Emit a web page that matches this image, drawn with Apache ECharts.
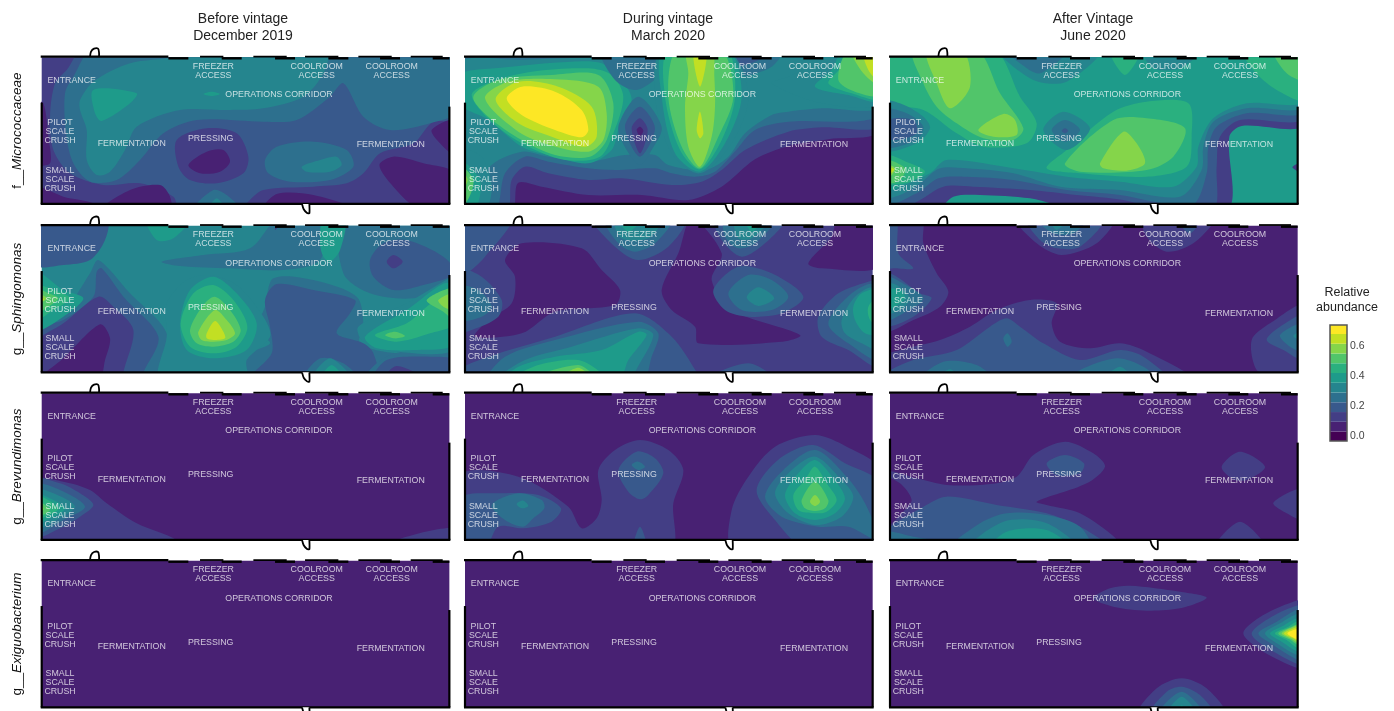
<!DOCTYPE html>
<html><head><meta charset="utf-8">
<style>html,body{margin:0;padding:0;background:#fff}#c{width:1394px;height:711px;filter:blur(0.35px)}</style>
<script src="https://cdn.jsdelivr.net/npm/echarts@6/dist/echarts.min.js"></script>
</head><body><div id="c"></div>
<script>
// Abundance bands (bottom to top of the colour bar)
const bandColors = ['#440154','#482173','#433e85','#38598c','#2d708e','#25858e','#1e9b8a','#2ab07f','#51c56a','#85d54a','#c2df23','#fde725'];
const bandEdges = [-0.033,0.03,0.095,0.16,0.225,0.29,0.355,0.42,0.485,0.55,0.615,0.68,0.74];
const legendTicks = [0,0.2,0.4,0.6];
const taxa = ['Micrococcaceae','Sphingomonas','Brevundimonas','Exiguobacterium'];
const taxaPrefix = ['f__','g__','g__','g__'];
const periods = ['Before vintage\nDecember 2019','During vintage\nMarch 2020','After Vintage\nJune 2020'];

// Contour rings, as [band, x,y, x,y, ...] on a floor-plan grid
const microBefore = [
 [3,160,30,1290,30,1290,240,1210,245,1150,310,1050,340,1000,400,950,430,850,440,700,450,650,490,640,510,450,510,430,470,330,430,220,435,120,400,70,330,60,230,75,130,110,90],
 [2,440,300,530,265,620,280,655,350,640,400,560,430,480,420,445,380],
 [1,475,375,530,335,580,330,600,365,570,395,510,400],
 [1,1048,375,1090,350,1180,370,1275,400,1275,510,1170,510,1090,440],
 [1,1205,270,1275,240,1275,345,1230,310],
 [1,700,510,740,462,850,465,980,510],
 [1,15,185,40,190,55,290,60,370,15,370],
 [1,15,440,100,470,190,490,190,510,15,510],
 [1,215,510,300,450,390,435,420,470,420,510],
 [4,190,30,1290,30,1290,210,1200,250,1080,270,1000,230,940,130,900,170,800,240,700,245,500,240,400,280,330,360,260,420,180,425,130,370,108,280,105,160,130,110],
 [4,705,360,740,320,850,305,950,330,970,380,900,420,780,425,715,400],
 [4,490,510,550,450,590,465,630,510],
 [5,150,180,190,125,300,70,440,50,450,30,890,30,880,100,820,170,700,205,600,210,450,210,320,260,285,330,240,395,200,405,170,360,170,270,150,210],
 [5,815,380,870,360,920,350,935,375,900,395,830,395],
 [5,535,510,560,475,585,510],
 [6,190,150,320,160,300,190,215,243,195,220],
 [6,520,162,545,155,570,162,545,168]
];
const microDuring = [
 [2,10,30,1275,30,1275,272,1120,298,1000,318,900,358,800,440,700,480,560,465,400,465,260,440,190,428,180,490,180,510,10,510],
 [3,10,30,1275,30,1275,255,1100,262,1000,275,870,330,800,390,740,425,650,435,500,415,400,420,280,400,210,380,170,420,155,510,10,510],
 [4,10,30,1275,30,1275,225,1000,245,900,270,835,340,780,395,720,410,650,400,600,385,480,390,400,385,280,365,210,350,150,400,120,510,10,510],
 [5,10,75,200,60,430,50,640,30,1275,30,1275,200,1100,205,1000,215,950,225,870,280,820,350,750,390,640,375,600,345,510,345,400,365,280,350,200,335,100,385,80,510,10,510],
 [6,10,105,120,85,350,65,440,70,500,120,530,180,490,270,470,330,400,370,280,345,200,320,100,240,10,190],
 [7,50,165,110,125,230,95,400,85,470,105,505,170,475,280,435,350,330,360,210,315,110,245],
 [8,55,170,130,120,290,105,430,105,475,190,455,300,405,350,300,345,200,300,100,230],
 [9,90,175,160,125,300,118,430,140,455,220,445,300,400,335,295,318,190,275],
 [10,122,178,190,125,310,140,410,200,425,290,390,320,290,290,190,250],
 [11,155,175,200,140,300,155,380,210,400,270,380,292,300,270,200,225],
 [4,440,30,660,30,620,100,545,150,480,120],
 [4,770,30,980,30,950,80,850,110,790,90],
 [3,800,30,960,30,900,65,840,75],
 [5,620,30,820,30,880,170,830,310,735,400,650,340,600,170],
 [6,625,30,820,30,860,170,810,310,735,395,660,340,620,170],
 [7,640,30,815,30,840,170,800,300,735,388,675,330,630,170],
 [8,665,30,800,30,835,170,790,290,735,385,680,320,640,170],
 [9,695,30,770,30,778,110,780,200,770,290,735,380,700,320,690,200,700,100],
 [10,715,30,755,30,735,140],
 [10,725,270,735,215,745,280,735,295],
 [4,490,260,550,170,620,260,590,330,555,375,515,330],
 [3,510,260,555,200,600,265,555,350],
 [2,530,265,555,235,578,270,555,340],
 [1,545,270,555,260,565,272,555,288],
 [5,950,130,1000,110,1080,70,1100,30,1275,30,1275,190,1100,190],
 [6,1080,140,1130,90,1165,30,1275,30,1275,182,1180,165],
 [7,1120,130,1160,80,1180,30,1275,30,1275,175,1190,160],
 [8,1150,120,1180,30,1275,30,1275,165,1200,155],
 [9,1190,30,1275,30,1275,135,1225,100],
 [10,1225,30,1275,30,1275,125,1240,90],
 [5,10,330,80,350,110,440,90,510,10,510],
 [6,10,360,75,420,60,510,10,510],
 [8,10,375,55,420,35,485,10,490],
 [9,10,385,38,420,10,465]
];
const microAfter = [
 [2,10,30,1275,30,1275,255,1085,258,1048,290,1042,510,750,510,720,492,540,495,450,475,300,465,220,470,170,510,10,510],
 [3,10,30,1275,30,1275,235,1080,240,1020,290,1010,380,1000,510,850,510,730,480,590,465,450,450,280,440,190,440,120,480,60,510,10,510],
 [4,10,30,1275,30,1275,215,1100,220,1010,260,985,320,980,400,940,495,850,490,720,465,560,450,400,420,260,410,175,415,110,460,10,490],
 [5,10,30,1275,30,1275,200,1100,205,1000,245,970,320,965,390,900,470,720,450,540,440,400,400,260,385,180,385,120,430,60,465,10,470],
 [6,10,30,1275,30,1275,185,1100,190,1000,235,955,320,950,380,880,440,720,425,560,410,400,385,200,360,150,400,60,440,10,450],
 [7,10,30,340,30,420,170,470,250,440,310,310,320,230,280,130,210,10,185],
 [8,100,30,290,30,360,160,430,265,400,300,310,295,230,250,170,200,130,130],
 [9,140,30,248,30,270,140,210,205,170,130],
 [9,295,270,370,222,405,240,410,285,340,290],
 [7,500,385,560,330,700,215,800,185,925,190,935,290,920,380,800,410,600,400],
 [8,555,370,700,240,800,235,915,265,880,350,800,390,600,395],
 [9,660,370,730,275,770,310,795,370,740,392,670,385],
 [5,490,270,550,215,630,265,560,330],
 [4,515,270,555,240,600,270,555,305],
 [3,545,272,555,265,565,272,555,280],
 [5,360,30,660,30,560,125,460,120],
 [4,380,30,560,30,480,100,420,70],
 [7,690,30,780,30,735,105],
 [5,790,30,960,30,900,85,820,85],
 [7,1090,30,1275,30,1275,180,1190,150,1120,90],
 [8,1180,30,1275,30,1275,120,1220,100],
 [5,10,185,60,190,130,230,150,265,110,310,10,330],
 [4,10,210,80,220,130,260,110,300,10,320],
 [3,25,240,100,240,110,280,50,300,10,290],
 [7,10,345,90,370,135,395,90,425,30,435,10,440],
 [8,10,360,75,385,60,420,10,430],
 [9,10,370,45,385,30,410,10,415],
 [10,10,375,42,388,30,402,10,405],
 [2,1237,382,1275,365,1275,400]
];
const sphingoBefore = [
 [3,15,30,230,30,225,90,180,150,100,165,15,165],
 [4,395,155,520,135,660,115,745,25,880,25,870,150,760,180,600,175,450,168],
 [4,940,25,1275,25,1275,220,1150,265,1020,250,940,190],
 [3,1020,150,1060,100,1130,90,1240,140,1275,190,1180,225,1090,240,1030,200],
 [2,1070,155,1090,135,1118,155,1090,175],
 [6,870,100,880,25,945,25,930,120,900,155,880,140],
 [6,350,25,480,25,430,85,380,90],
 [2,745,25,760,25,735,60],
 [4,180,190,205,150,300,250,410,370,390,487,395,510,15,510,15,340,90,320],
 [3,200,185,215,175,280,260,385,380,340,487,330,510,15,510,15,360,100,330,190,260],
 [2,205,260,250,290,310,360,280,487,280,510,15,510,15,400,100,340],
 [1,210,343,240,385,225,450,205,510,30,510,100,445],
 [6,15,185,100,240,160,265,100,320,15,360],
 [7,15,225,70,240,120,265,70,300,15,330],
 [8,15,235,55,250,85,265,55,290,15,310],
 [9,15,250,50,265,15,285],
 [10,15,255,42,268,15,280],
 [4,705,290,680,360,720,400,640,440,660,510,1030,510,1270,510,1258,420,1100,430,990,400,1000,340,980,260,850,210,730,205],
 [3,705,270,740,222,850,240,975,270,960,310,920,370,1000,400,1030,430,1040,510,660,510,725,430,720,350],
 [5,410,280,470,210,540,195,620,225,700,320,720,380,650,450,650,510,390,510,410,380],
 [6,450,340,480,240,550,200,620,250,680,340,650,420,550,445,470,420],
 [7,452,340,490,250,550,225,610,270,652,350,620,410,550,430,480,410],
 [8,480,360,520,285,555,260,600,300,632,360,610,395,550,410,500,400],
 [9,505,365,555,300,590,330,615,370,590,390,550,395,515,390],
 [10,530,370,555,333,580,365,585,385,550,390,530,385],
 [4,820,510,870,445,940,460,985,510],
 [5,845,510,900,445,965,510],
 [6,870,510,905,465,940,510],
 [4,1005,510,1060,445,1150,420,1275,430,1275,510],
 [3,1030,510,1070,450,1200,440,1275,450,1275,510],
 [2,1060,510,1100,468,1190,510],
 [5,985,350,1130,280,1258,205,1275,205,1275,415,1100,425,1000,395],
 [6,1005,380,1130,300,1258,220,1275,400,1150,420,1040,415],
 [7,1035,375,1130,340,1190,290,1275,232,1275,340,1200,370,1100,395],
 [8,1065,375,1095,365,1125,378,1095,385],
 [8,1190,270,1275,235,1275,330,1240,305],
 [9,1225,270,1275,250,1275,300,1240,290]
];
const sphingoDuring = [
 [1,150,150,200,100,380,115,440,180,495,240,480,285,300,305,200,370,60,380,100,330,170,280,180,200],
 [1,710,25,800,130,770,210,830,300,1035,375,980,395,730,400,720,350,650,300,620,240,670,130],
 [1,1060,160,1130,80,1150,25,1275,25,1275,170,1100,175],
 [3,15,25,170,25,90,140,35,190,15,190],
 [3,415,25,690,25,640,110,550,150,480,110],
 [4,450,25,650,25,600,100,540,125,490,100],
 [5,480,25,620,25,580,85,500,85],
 [6,490,25,560,25,520,65],
 [3,780,25,990,25,930,100,860,140,800,90],
 [4,810,25,960,25,900,100,850,115,810,80],
 [5,840,25,945,25,890,85,850,85],
 [6,870,25,925,25,890,65],
 [7,880,25,910,25,895,55],
 [3,10,180,80,200,140,270,130,320,50,360,10,365],
 [4,10,230,70,240,110,290,80,320,10,330],
 [3,10,480,100,440,300,380,540,310,650,380,725,487,730,510,10,510],
 [4,150,440,300,390,550,335,610,370,590,440,560,510,100,510],
 [5,210,450,350,410,550,355,595,375,540,487,530,510,130,510],
 [6,190,470,300,440,440,420,550,365,575,375,520,450,490,510,150,510],
 [7,170,510,250,465,370,450,440,490,440,510],
 [8,220,510,370,465,420,510],
 [9,310,510,370,473,410,510],
 [3,1090,320,1150,250,1255,210,1275,210,1275,470,1180,420,1100,380],
 [4,1120,340,1190,250,1255,225,1275,450,1180,400],
 [5,1160,330,1200,260,1255,235,1275,420,1220,400,1170,370],
 [6,1195,290,1220,250,1275,240,1275,370,1230,370,1200,330],
 [7,1240,290,1275,255,1275,350,1245,330],
 [3,775,240,850,170,950,190,1045,260,980,310,880,320,810,300],
 [4,820,250,880,195,950,210,1000,260,950,300,860,300],
 [5,875,262,910,232,958,265,910,288],
 [3,750,510,880,460,960,510]
];
const sphingoAfter = [
 [2,15,25,125,25,130,100,170,190,205,245,180,290,100,330,15,360],
 [2,15,510,15,440,60,420,180,390,270,350,350,300,450,270,530,280,515,340,540,395,630,415,720,400,800,425,935,510],
 [3,15,490,100,450,230,420,330,350,380,325,420,350,490,400,600,450,720,420,790,440,860,510,15,510],
 [4,120,510,190,455,290,465,340,510],
 [4,570,510,600,480,710,445,790,470,830,510],
 [5,670,510,720,470,760,510],
 [5,170,510,210,478,240,510],
 [4,370,385,383,370,395,395,382,410],
 [2,410,25,700,25,650,100,545,135,470,100],
 [3,440,25,670,25,600,110,530,115,480,90],
 [4,470,25,620,25,580,70,520,70],
 [5,510,25,560,25,530,60],
 [2,790,25,1000,25,940,100,860,125,800,80],
 [3,890,25,960,25,930,70],
 [3,15,190,50,200,120,250,155,265,100,320,15,345],
 [4,15,200,60,215,130,265,70,310,15,330],
 [5,15,220,50,225,90,265,60,300,15,310],
 [6,15,240,60,240,75,265,45,290,15,300],
 [3,15,25,50,25,55,130,100,175,40,175,15,175],
 [2,1115,390,1170,340,1275,285,1275,490,1180,487,1130,480],
 [3,1160,390,1200,350,1275,315,1275,450,1210,420],
 [4,1200,375,1275,340,1275,425,1230,410],
 [5,1240,378,1275,360,1275,395]
];
const brevBefore = [
 [2,15,300,100,305,180,330,230,370,320,430,440,480,440,505,15,505],
 [2,1100,480,1275,445,1275,505,1100,505],
 [3,15,300,90,310,150,340,190,375,150,410,90,445,15,470],
 [4,15,315,90,330,165,380,100,420,15,460],
 [5,15,330,70,340,135,380,80,420,15,445],
 [6,15,340,50,350,105,385,60,415,15,430],
 [7,15,345,85,385,45,410,15,420],
 [8,15,355,45,375,60,390,30,405],
 [9,15,365,35,375,40,390,15,395]
];
const brevDuring = [
 [2,15,285,190,290,340,380,380,445,425,415,440,360,430,270,480,210,555,180,640,210,685,270,655,370,645,505,15,505],
 [3,15,355,130,340,250,345,318,385,290,425,205,445,130,440,90,505,15,505],
 [4,110,375,190,340,260,360,268,385,235,415,205,440,150,420],
 [5,185,372,205,362,220,378,200,385],
 [3,490,270,545,215,600,235,625,280,580,345,555,358,520,335],
 [4,530,255,550,245,570,260,550,270],
 [3,535,505,555,440,575,505],
 [2,835,505,830,390,880,290,960,200,1080,165,1175,200,1275,270,1275,505],
 [3,905,330,975,235,1075,195,1170,250,1275,310,1275,505,1050,505,960,420],
 [4,930,350,985,270,1080,210,1175,290,1230,370,1270,480,1180,440,1090,440,980,410],
 [5,960,340,1000,280,1080,230,1160,300,1195,350,1160,410,1080,435,1000,400],
 [6,990,345,1030,280,1080,240,1135,295,1170,355,1140,400,1080,420,1020,400],
 [7,1015,345,1050,300,1080,260,1115,310,1145,360,1115,395,1080,400,1030,390],
 [8,1040,360,1080,305,1120,360,1110,385,1080,393,1050,385],
 [9,1065,365,1080,345,1095,365,1080,378]
];
const brevAfter = [
 [2,15,280,110,295,200,315,330,312,410,290,460,225,555,185,640,220,675,260,620,310,470,365,500,375,600,400,710,478,710,505,15,505],
 [1,15,295,60,310,95,360,70,395,15,440],
 [3,15,455,130,380,200,350,350,375,500,400,600,440,680,490,690,505,15,505],
 [4,15,455,100,470,150,480,15,490],
 [4,215,505,300,430,380,400,500,405,600,440,630,505],
 [5,270,505,370,425,500,430,590,505],
 [6,330,505,380,455,500,450,570,505],
 [3,500,250,555,225,612,250,600,280,530,285],
 [2,1025,260,1080,215,1155,260,1100,300,1060,298],
 [2,1180,368,1275,325,1275,420,1220,400],
 [2,1005,505,1080,425,1155,505]
];
const exigBefore = [];
const exigDuring = [];
const exigAfter = [
 [2,640,160,690,130,750,122,900,140,980,158,900,190,800,197,700,185],
 [2,1090,265,1150,210,1255,165,1300,165,1300,375,1255,370,1150,320],
 [3,1115,265,1175,215,1255,180,1300,180,1300,360,1255,358,1165,310],
 [4,1135,265,1190,230,1255,192,1300,192,1300,348,1255,345,1180,300],
 [5,1155,265,1200,235,1255,205,1300,205,1300,335,1255,332,1190,295],
 [6,1170,265,1210,242,1255,218,1300,218,1300,322,1255,320,1205,290],
 [7,1185,265,1225,245,1255,228,1300,228,1300,310,1255,310,1220,285],
 [8,1195,265,1235,245,1258,235,1300,235,1300,305,1258,302,1228,283],
 [9,1205,265,1240,245,1258,240,1300,240,1300,298,1258,296,1235,282],
 [10,1212,265,1245,248,1258,245,1300,245,1300,292,1258,290,1240,280],
 [11,1222,265,1258,250,1300,250,1300,285,1258,285],
 [2,775,510,830,430,905,400,980,430,1035,510],
 [3,810,510,860,440,905,425,960,450,1000,510],
 [4,835,510,905,440,970,510],
 [5,860,510,905,455,950,510],
 [6,895,510,905,480,915,510]
];
const contourGrid = [
 [microBefore,microDuring,microAfter],
 [sphingoBefore,sphingoDuring,sphingoAfter],
 [brevBefore,brevDuring,brevAfter],
 [exigBefore,exigDuring,exigAfter]
];
const baseBand = [[2,1,6],[5,2,1],[1,1,1],[1,1,1]];
const originX = [35,30,30];
const originY = [52,47,40,47];

// Room names, placed on the floor plan
const rooms = [
 ['ENTRANCE',90,69],['FREEZER\nACCESS',515,41],['COOLROOM\nACCESS',825,40],['COOLROOM\nACCESS',1050,40],
 ['OPERATIONS CORRIDOR',712,113],['PILOT\nSCALE\nCRUSH',55,224],['FERMENTATION',270,259],['PRESSING',507,245],
 ['FERMENTATION',1047,263],['SMALL\nSCALE\nCRUSH',55,366]
];
// Floor-plan walls
const wallsThin = [[[-3,-2],[380,-2]],[[0,136],[0,440]],[[1223,148],[1223,440]],[[-3,440],[1226,440]]];
const doorsTop = [[-3,-2],[145,-2],[148,-17],[157,-26],[169,-26],[172,-14],[172,-2]];
const doorBottom = [[781,440],[786,456],[796,467],[803,468],[803,440]];
const windowSegs = [[380,440,3],[475,545,-2],[540,600,3],[635,735,-2],[700,760,3],[790,890,-2],[860,920,3],[950,1050,-2],[1015,1075,3],[1107,1203,-2],[1173,1223,3]];

const planW = 1223, planH = 440, scale = 1/3;
const colLeft = [41.7,465,890], rowTop = [57.3,225.7,393.3,560.7];
const titleCenter = [243,668,1093];

const grids=[],xAxes=[],yAxes=[],series=[];
contourGrid.forEach((row,r)=>row.forEach((rings,c)=>{
  const i=grids.length, x0=originX[c], y0=originY[r];
  grids.push({left:colLeft[c],top:rowTop[r],width:planW*scale,height:planH*scale,show:true,borderWidth:0,backgroundColor:bandColors[baseBand[r][c]]});
  xAxes.push({gridIndex:i,type:'value',min:x0,max:x0+planW,axisLine:{show:false},axisTick:{show:false},axisLabel:{show:false},splitLine:{show:false}});
  yAxes.push({gridIndex:i,type:'value',min:y0,max:y0+planH,inverse:true,axisLine:{show:false},axisTick:{show:false},axisLabel:{show:false},splitLine:{show:false},
    name:c===0?`{p|${taxaPrefix[r]}}{i|${taxa[r]}}`:'',nameLocation:'middle',nameGap:17,nameRotate:90,
    nameTextStyle:{rich:{p:{fontFamily:'Liberation Sans',fontSize:13.5,color:'#111'},i:{fontFamily:'Liberation Sans',fontSize:13.5,fontStyle:'italic',color:'#111'}}}});
  series.push({type:'custom',name:taxa[r]+' '+periods[c].split('\n')[1],xAxisIndex:i,yAxisIndex:i,coordinateSystem:'cartesian2d',clip:true,silent:true,z:2,
    data:rings.map(g=>[g[1],g[2],g[0]]),
    encode:{x:0,y:1},
    renderItem:(p,api)=>{
      const g=rings[p.dataIndex],pts=[];
      for(let k=1;k<g.length;k+=2)pts.push(api.coord([g[k],g[k+1]]));
      return {type:'polygon',shape:{points:pts,smooth:0.3},style:{fill:bandColors[g[0]],stroke:null}};
    }});
  series.push({type:'scatter',xAxisIndex:i,yAxisIndex:i,symbolSize:0,silent:true,z:4,clip:false,
    data:rooms.map(m=>({name:m[0],value:[x0+m[1],y0+m[2]]})),
    label:{show:true,position:'inside',formatter:q=>q.name,color:'rgba(255,255,255,0.92)',fontFamily:'Liberation Sans',fontSize:8.8,lineHeight:9,align:'center',verticalAlign:'middle'}});
  series.push({type:'custom',xAxisIndex:i,yAxisIndex:i,coordinateSystem:'cartesian2d',clip:false,silent:true,z:3,
    data:[[x0,y0]],encode:{x:0,y:1},
    renderItem:(p,api)=>{
      const pt=q=>api.coord([x0+q[0],y0+q[1]]);
      const kids=[];
      wallsThin.forEach(w=>kids.push({type:'polyline',shape:{points:w.map(pt)},style:{stroke:'#000',lineWidth:2.2,fill:null}}));
      windowSegs.forEach(w=>kids.push({type:'polyline',shape:{points:[pt([w[0],w[2]]),pt([w[1],w[2]])]},style:{stroke:'#000',lineWidth:w[2]>0?2.4:1.8,fill:null}}));
      kids.push({type:'polyline',shape:{points:doorsTop.slice(1).map(pt),smooth:0.3},style:{stroke:'#000',lineWidth:1.8,fill:null}});
      kids.push({type:'polyline',shape:{points:doorBottom.map(pt),smooth:0.2},style:{stroke:'#000',lineWidth:1.8,fill:'#fff'}});
      return {type:'group',children:kids};
    }});
}));

// colour bar
const cb=grids.length;
grids.push({left:1330,top:325,width:17,height:116,show:false});
xAxes.push({gridIndex:cb,type:'value',min:0,max:1,axisLine:{show:false},axisTick:{show:false},axisLabel:{show:false},splitLine:{show:false}});
yAxes.push({gridIndex:cb,type:'value',position:'right',min:bandEdges[0],max:bandEdges[12],splitLine:{show:false},
  axisLine:{show:false},axisTick:{show:true,length:2,lineStyle:{color:'#555'},customValues:legendTicks},
  axisLabel:{show:true,customValues:legendTicks,formatter:v=>v.toFixed(1),color:'#444',fontFamily:'Liberation Sans',fontSize:10.5,margin:3}});
series.push({type:'custom',name:'Relative abundance',xAxisIndex:cb,yAxisIndex:cb,coordinateSystem:'cartesian2d',silent:true,clip:false,z:2,
  data:bandColors.map((col,k)=>[0,bandEdges[k],bandEdges[k+1],k]),encode:{x:0,y:1},
  renderItem:(p,api)=>{
    const a=api.coord([0,api.value(1)]),b=api.coord([1,api.value(2)]);
    return {type:'rect',shape:{x:a[0],y:b[1],width:b[0]-a[0],height:a[1]-b[1]},style:{fill:bandColors[api.value(3)]}};
  }});
series.push({type:'custom',xAxisIndex:cb,yAxisIndex:cb,coordinateSystem:'cartesian2d',silent:true,clip:false,z:3,
  data:[[0,bandEdges[0],bandEdges[12]]],encode:{x:0,y:1},
  renderItem:(p,api)=>{
    const a=api.coord([0,api.value(1)]),b=api.coord([1,api.value(2)]);
    return {type:'rect',shape:{x:a[0],y:b[1],width:b[0]-a[0],height:a[1]-b[1]},style:{fill:null,stroke:'#555',lineWidth:1.5}};
  }});

const titleStyle={fontFamily:'Liberation Sans',fontSize:14,fontWeight:'normal',color:'#222',lineHeight:17};
const titles=periods.map((t,c)=>({text:t,left:titleCenter[c],top:11,padding:0,textAlign:'center',textStyle:titleStyle}));
titles.push({text:'Relative\nabundance',left:1347,top:285,padding:0,textAlign:'center',textStyle:{...titleStyle,fontSize:12.5,lineHeight:15}});

const chart=echarts.init(document.getElementById('c'),null,{renderer:'canvas',width:1394,height:711});
chart.setOption({animation:false,backgroundColor:'#fff',title:titles,grid:grids,xAxis:xAxes,yAxis:yAxes,series});
</script></body></html>
